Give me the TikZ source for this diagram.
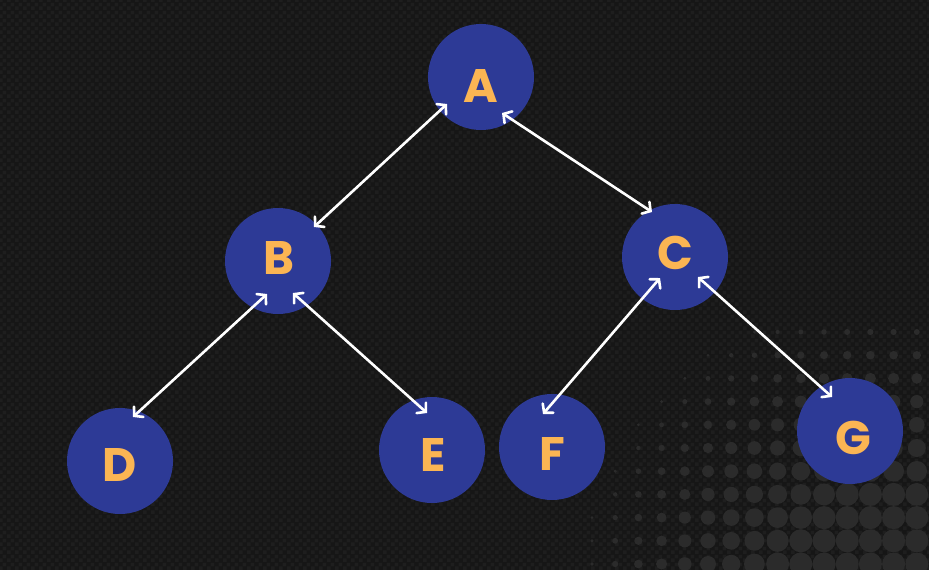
\documentclass[tikz,border=0pt]{standalone}
\usepackage{fontspec}
\setmainfont{Poppins}
\usetikzlibrary{arrows.meta,calc,patterns.meta}
\definecolor{bgcol}{HTML}{161616}
\definecolor{bgchk}{HTML}{1E1E1E}
\definecolor{dotcol}{HTML}{2B2B2B}
\definecolor{nodecol}{HTML}{2D3A96}
\definecolor{lettercol}{HTML}{FBB553}
\tikzdeclarepattern{name=bgcheck, type=uncolored,
  bounding box={(0pt,0pt) and (8pt,8pt)}, tile size={(8pt,8pt)},
  code={\fill (0pt,0pt) rectangle (4pt,4pt); \fill (4pt,4pt) rectangle (8pt,8pt);}}
\tikzset{
  treenode/.style={circle, fill=nodecol, draw=none, minimum size=106pt, inner sep=0pt},
  letter/.style={text=lettercol, font=\fontsize{47}{47}\selectfont\bfseries, inner sep=0pt, anchor=center},
  arr/.style={draw=white, line width=2.6pt, line cap=round,
    {Straight Barb[length=6pt,width=14pt,line cap=round]}-{Straight Barb[length=6pt,width=14pt,line cap=round]}}
}
\begin{document}
\begin{tikzpicture}[x=1pt,y=-1pt]
\useasboundingbox (0,0) rectangle (929,570);
\fill[bgcol] (0,0) rectangle (929,570);
\fill[pattern={bgcheck}, pattern color=bgchk] (0,0) rectangle (929,570);
% halftone dots
\begin{scope}
\clip (0,0) rectangle (929,570);
\foreach \i in {0,...,15} {
  \foreach \j in {0,...,10} {
    \pgfmathsetmacro{\xx}{592+23.2*\i}
    \pgfmathsetmacro{\yy}{332+23.2*\j}
    \pgfmathsetmacro{\dd}{100*sqrt(((\xx-880)/100)^2+((\yy-600)/100)^2)}
    \pgfmathsetmacro{\rr}{min(11.5,12-(\dd-100)*0.053)}
    \ifdim \rr pt>1.2pt
      \fill[dotcol] (\xx,\yy) circle[radius=\rr];
    \fi
  }
}
\end{scope}
% nodes
\node[treenode] (A) at (481,77) {};
\node[treenode] (B) at (278,261) {};
\node[treenode] (C) at (675,257) {};
\node[treenode] (D) at (120,461) {};
\node[treenode] (E) at (432,450) {};
\node[treenode] (F) at (552,447) {};
\node[treenode] (G) at (850,431) {};
% letters
\node[letter] (tA) at (481,86) {A};
\node[letter] (tB) at (279,258) {B};
\node[letter] (tC) at (675,253) {C};
\node[letter] (tD) at (120,465) {D};
\node[letter] (tE) at (433,455) {E};
\node[letter] (tF) at (552,454) {F};
\node[letter] (tG) at (853,438) {G};
% connectors
\draw[arr] ($(A)+(-34,27)$) -- ($(B)+(36,-34)$);
\draw[arr] ($(A)+(21,36)$) -- ($(C)+(-23,-45)$);
\draw[arr] ($(B)+(-11,33)$) -- ($(D)+(13,-44)$);
\draw[arr] ($(B)+(15,32)$) -- ($(E)+(-5,-37)$);
\draw[arr] ($(C)+(-15,21)$) -- ($(F)+(-9,-33)$);
\draw[arr] ($(C)+(23,20)$) -- ($(G)+(-18,-34)$);
\end{tikzpicture}
\end{document}
